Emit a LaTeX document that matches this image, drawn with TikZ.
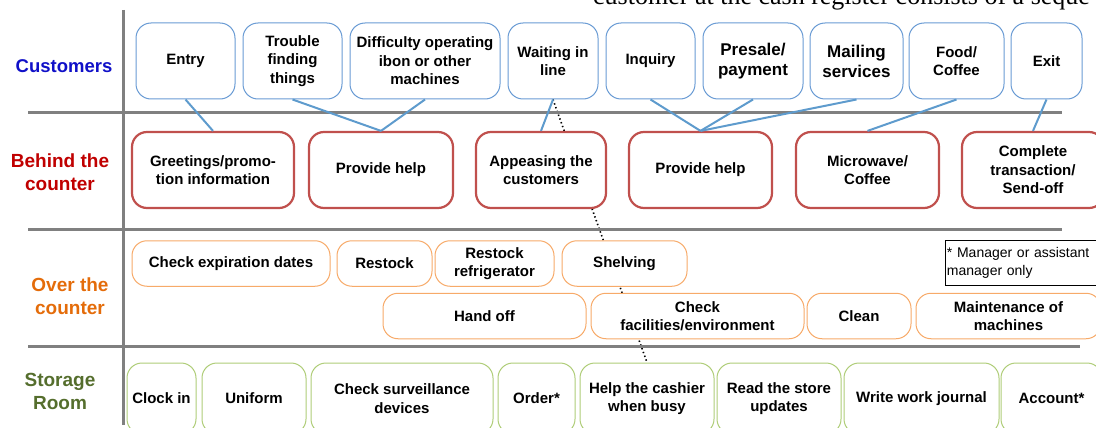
\documentclass[tikz,border=0pt]{standalone}
\usepackage{fontspec}
\setmainfont{Liberation Sans}
\newfontfamily\bodyserif{Liberation Serif}
\usetikzlibrary{backgrounds}

\definecolor{custblue}{RGB}{105,155,212}
\definecolor{linkblue}{RGB}{94,155,205}
\definecolor{counterred}{RGB}{192,80,77}
\definecolor{shelforange}{RGB}{247,170,105}
\definecolor{storegreen}{RGB}{175,205,120}
\definecolor{rulegray}{RGB}{128,128,128}
\definecolor{labblue}{RGB}{16,16,200}
\definecolor{labred}{RGB}{192,0,0}
\definecolor{laborange}{RGB}{228,108,10}
\definecolor{labgreen}{RGB}{85,110,45}

\tikzset{
  box/.style={rounded corners=15pt, fill=white, inner sep=0pt, align=center,
    font=\fontsize{15}{18.5}\selectfont\bfseries},
  custbox/.style={box, draw=custblue, line width=1pt, minimum height=76pt},
  bigtext/.style={font=\fontsize{17}{20}\selectfont\bfseries},
  cntbox/.style={box, draw=counterred, line width=2.2pt, minimum height=76pt},
  overbox/.style={box, draw=shelforange, line width=1pt, minimum height=45.5pt},
  storebox/.style={box, draw=storegreen, line width=1pt, minimum height=71pt},
  notebox/.style={draw=black, line width=0.9pt, anchor=north west, align=left,
    text width=160pt, inner xsep=1.5pt, inner ysep=0pt, minimum height=45pt,
    font=\fontsize{14}{17.5}\selectfont},
  lanelabel/.style={align=center, inner sep=0pt, font=\fontsize{19}{23}\selectfont\bfseries},
  rule/.style={draw=rulegray, line width=3pt},
  link/.style={draw=linkblue, line width=2pt},
  dotlink/.style={draw=black, line width=1.6pt, dash pattern=on 1.4pt off 2.6pt}
}

\begin{document}
\begin{tikzpicture}[x=1pt,y=-1pt]
\path[use as bounding box] (0,0) rectangle (1096,428);
\clip (0,0) rectangle (1096,428);

% running text above the chart
\node[anchor=base west, inner sep=0pt, font=\bodyserif\fontsize{26}{30}\selectfont]
  (topline) at (593,5) {customer at the cash register consists of a seque};

% lane dividers
\draw[rule] (123,10) -- (123,425);
\draw[rule] (28,112.5) -- (1062,112.5);
\draw[rule] (28,229) -- (1062,229);
\draw[rule] (28,346) -- (1080,346);

% lane labels
\node[lanelabel, text=labblue, font=\fontsize{18.5}{23}\selectfont\bfseries] (lcust) at (64,66) {Customers};
\node[lanelabel, text=labred] (lbehind) at (60,172) {Behind the\\counter};
\node[lanelabel, text=laborange] (lover) at (70,296.5) {Over the\\counter};
\node[lanelabel, text=labgreen] (lstore) at (60,391) {Storage\\Room};

% customers
\node[custbox, minimum width=99pt] (entry) at (185.5,61) {Entry};
\node[custbox, minimum width=99pt] (trouble) at (292.5,61) {Trouble\\finding\\things};
\node[custbox, minimum width=150pt] (ibon) at (425,61) {Difficulty operating\\ibon or other\\machines};
\node[custbox, minimum width=90pt] (wait) at (553,61) {Waiting in\\line};
\node[custbox, minimum width=89pt] (inquiry) at (650.5,61) {Inquiry};
\node[custbox, bigtext, minimum width=100pt] (presale) at (753,61) {Presale/\\payment};
\node[custbox, bigtext, minimum width=93pt] (mail) at (856.5,61) {Mailing\\services};
\node[custbox, minimum width=95pt] (food) at (956.5,61) {Food/\\Coffee};
\node[custbox, minimum width=71pt] (exit) at (1046.5,61) {Exit};

% behind the counter
\node[cntbox, minimum width=162pt] (greet) at (213,170) {Greetings/promo-\\tion information};
\node[cntbox, minimum width=144pt] (helpa) at (381,170) {Provide help};
\node[cntbox, minimum width=130pt] (appease) at (541,170) {Appeasing the\\customers};
\node[cntbox, minimum width=143pt] (helpb) at (700.5,170) {Provide help};
\node[cntbox, minimum width=143pt] (micro) at (867.5,170) {Microwave/\\Coffee};
\node[cntbox, minimum width=142pt] (complete) at (1033,170) {Complete\\transaction/\\Send-off};

% over the counter
\node[overbox, minimum width=198pt] (expiry) at (231,263.5) {Check expiration dates};
\node[overbox, minimum width=95pt] (restock) at (384.5,263.5) {Restock};
\node[overbox, minimum width=119pt] (fridge) at (494.5,263.5) {Restock\\refrigerator};
\node[overbox, minimum width=125pt] (shelving) at (624.5,263.5) {Shelving};
\node[overbox, minimum width=203pt] (handoff) at (484.5,316) {Hand off};
\node[overbox, minimum width=213pt] (facil) at (697.5,316) {Check\\facilities/environment};
\node[overbox, minimum width=104pt] (clean) at (859,316) {Clean};
\node[overbox, minimum width=185pt] (maint) at (1008.5,316) {Maintenance of\\machines};
\node[notebox] (note) at (945,240) {* Manager or assistant\\manager only};

% storage room
\node[storebox, minimum width=69pt] (clock) at (161.5,398.5) {Clock in};
\node[storebox, minimum width=104pt] (uniform) at (254,398.5) {Uniform};
\node[storebox, minimum width=182pt] (surv) at (402,398.5) {Check surveillance\\devices};
\node[storebox, minimum width=77pt] (order) at (536.5,398.5) {Order*};
\node[storebox, minimum width=134pt] (cashier) at (647,398.5) {Help the cashier\\when busy};
\node[storebox, minimum width=124pt] (updates) at (779,398.5) {Read the store\\updates};
\node[storebox, minimum width=155pt] (journal) at (921.5,398.5) {Write work journal};
\node[storebox, minimum width=101pt] (account) at (1051.5,398.5) {Account*};

% customer needs met behind the counter
\draw[link] (entry.south) -- (greet.north);
\draw[link] (trouble.south) -- (helpa.north);
\draw[link] (ibon.south) -- (helpa.north);
\draw[link] (wait.south) -- (appease.north);
\draw[link] (inquiry.south) -- (helpb.north);
\draw[link] (presale.south) -- (helpb.north);
\draw[link] (mail.south) -- (helpb.north);
\draw[link] (food.south) -- (micro.north);
\draw[link] (exit.south) -- (complete.north);

% staff pulled from the back when the line grows
\begin{pgfonlayer}{background}
\draw[dotlink] (wait.south) -- (cashier.north);
\end{pgfonlayer}
\end{tikzpicture}
\end{document}
